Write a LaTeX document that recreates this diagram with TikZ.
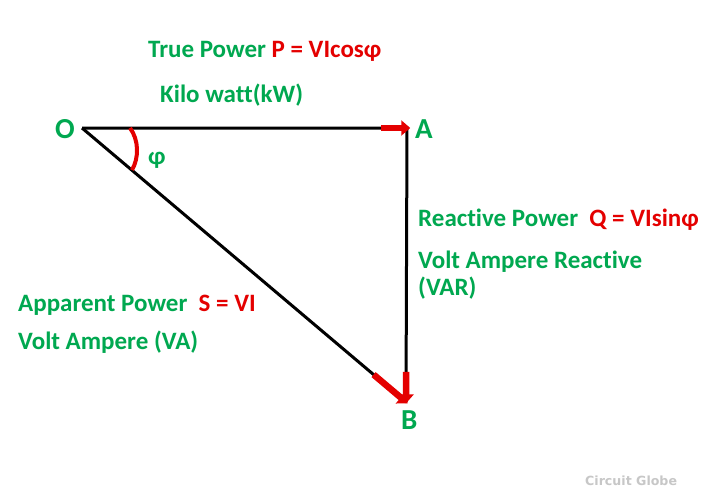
\documentclass[tikz,border=0pt]{standalone}
\usepackage{fontspec}
\setmainfont{Carlito}[Ligatures={NoCommon}]
\newfontfamily\wmfont{DejaVu Sans}
\usetikzlibrary{arrows.meta,calc}
\definecolor{tgreen}{RGB}{0,168,80}
\definecolor{tred}{RGB}{228,0,0}
\tikzset{
  lbl/.style={anchor=base west,inner sep=0pt,text=tgreen,font=\fontsize{25}{30}\selectfont\bfseries},
  vtx/.style={anchor=base west,inner sep=0pt,text=tgreen,font=\fontsize{29}{34}\selectfont\bfseries},
  side/.style={line width=3pt,black},
  redarrow/.style={line width=6.5pt,tred,-{Triangle[length=9pt,width=15pt]}},
}
\begin{document}
\begin{tikzpicture}[x=1pt,y=-1pt]
\useasboundingbox[fill=white] (0,0) rectangle (704,495);
\coordinate (O) at (82,128);
\coordinate (A) at (407,128);
\coordinate (B) at (406,402);
\draw[side] (O) -- (A) -- (B);
\draw[side] (O) -- (B);
\draw[redarrow] ($(O)!0.92!(A)$) -- ($(O)!1.01!(A)$);
\draw[redarrow] ($(A)!0.89!(B)$) -- ($(A)!1.005!(B)$);
\draw[redarrow] ($(O)!0.9!(B)$) -- ($(O)!1.005!(B)$);
\coordinate (a1) at (130,128);
\coordinate (a2) at (132,170);
\draw[tred,line width=4pt] (a1) .. controls (139,140) and (139,158) .. (a2);
\node[vtx] (Ol) at (55,138) {O};
\node[vtx] (Al) at (415,138) {A};
\node[vtx] (Bl) at (401,429) {B};
\node[lbl] (phi) at (148,164) {φ};
\node[lbl] (tp) at (148,58) {True Power \textcolor{tred}{P = VIcosφ}};
\node[lbl] (kw) at (160,102) {Kilo watt(kW)};
\node[lbl] (rp) at (418,226) {Reactive Power\ \ \textcolor{tred}{Q = VIsinφ}};
\node[lbl] (var1) at (418,268) {Volt Ampere Reactive};
\node[lbl] (var2) at (418,295) {(VAR)};
\node[lbl] (ap) at (18,311) {Apparent Power\ \ \textcolor{tred}{S = VI}};
\node[lbl] (va) at (18,349) {Volt Ampere (VA)};
\node[anchor=base west,inner sep=0pt,text=black!22,font=\wmfont\fontsize{12.6}{14}\selectfont\bfseries] (wm) at (585,485) {Circuit Globe};
\end{tikzpicture}
\end{document}
